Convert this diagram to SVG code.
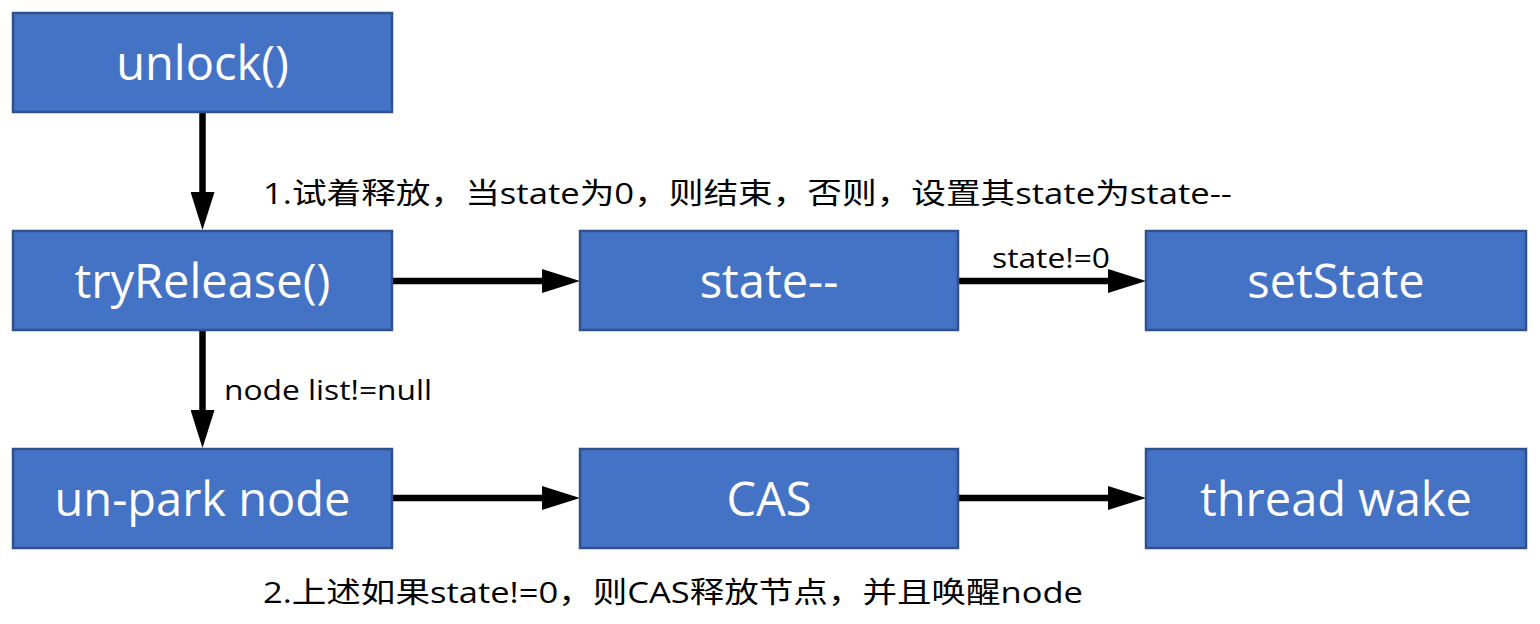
<svg xmlns="http://www.w3.org/2000/svg" width="1540" height="624" viewBox="0 0 1540 624">
<defs>
<style>
.box{fill:#4472C4;stroke:#2F528F;stroke-width:2.5}
.bt{fill:#fff;font-family:"Open Sans","Noto Sans",sans-serif;font-size:47px;text-anchor:middle}
.lbl{fill:#000;font-family:"Open Sans","Noto Sans CJK SC",sans-serif;font-size:27px}
.cn{fill:#000;font-family:"Open Sans","Noto Sans CJK SC",sans-serif;font-size:29px}
.conn{stroke:#000;stroke-width:6.5;fill:none}
</style>
<marker id="ah" markerUnits="userSpaceOnUse" markerWidth="38" markerHeight="24" refX="2" refY="12" orient="auto">
<path d="M0,0 L38,12 L0,24 z" fill="#000"/>
</marker>
</defs>
<rect width="1540" height="624" fill="#fff"/>
<g id="connectors">
<line class="conn" x1="202.5" y1="112" x2="202.5" y2="194" marker-end="url(#ah)"/>
<line class="conn" x1="392" y1="281" x2="544" y2="281" marker-end="url(#ah)"/>
<line class="conn" x1="958" y1="281" x2="1110" y2="281" marker-end="url(#ah)"/>
<line class="conn" x1="202.5" y1="330" x2="202.5" y2="412" marker-end="url(#ah)"/>
<line class="conn" x1="392" y1="498" x2="544" y2="498" marker-end="url(#ah)"/>
<line class="conn" x1="958" y1="498" x2="1110" y2="498" marker-end="url(#ah)"/>
<text class="lbl" x="992" y="268" textLength="118" lengthAdjust="spacingAndGlyphs">state!=0</text>
<text class="lbl" x="224" y="400" textLength="208" lengthAdjust="spacingAndGlyphs">node list!=null</text>
</g>
<g id="unlock"><rect class="box" x="13" y="13" width="379" height="99"/><text class="bt" x="202.5" y="80">unlock()</text></g>
<g id="tryRelease"><rect class="box" x="13" y="231" width="379" height="99"/><text class="bt" x="202.5" y="298">tryRelease()</text></g>
<g id="stateDec"><rect class="box" x="580" y="231" width="378" height="99"/><text class="bt" x="769" y="298">state--</text></g>
<g id="setState"><rect class="box" x="1146" y="231" width="380" height="99"/><text class="bt" x="1336" y="298">setState</text></g>
<g id="unpark"><rect class="box" x="13" y="449" width="379" height="99"/><text class="bt" x="202.5" y="516">un-park node</text></g>
<g id="cas"><rect class="box" x="580" y="449" width="378" height="99"/><text class="bt" x="769" y="516">CAS</text></g>
<g id="threadWake"><rect class="box" x="1146" y="449" width="380" height="99"/><text class="bt" x="1336" y="516">thread wake</text></g>
<g id="notes">
<text class="cn" x="263" y="204" textLength="969" lengthAdjust="spacingAndGlyphs">1.试着释放，当state为0，则结束，否则，设置其state为state--</text>
<text class="cn" x="263" y="603" textLength="820" lengthAdjust="spacingAndGlyphs">2.上述如果state!=0，则CAS释放节点，并且唤醒node</text>
</g>
</svg>
